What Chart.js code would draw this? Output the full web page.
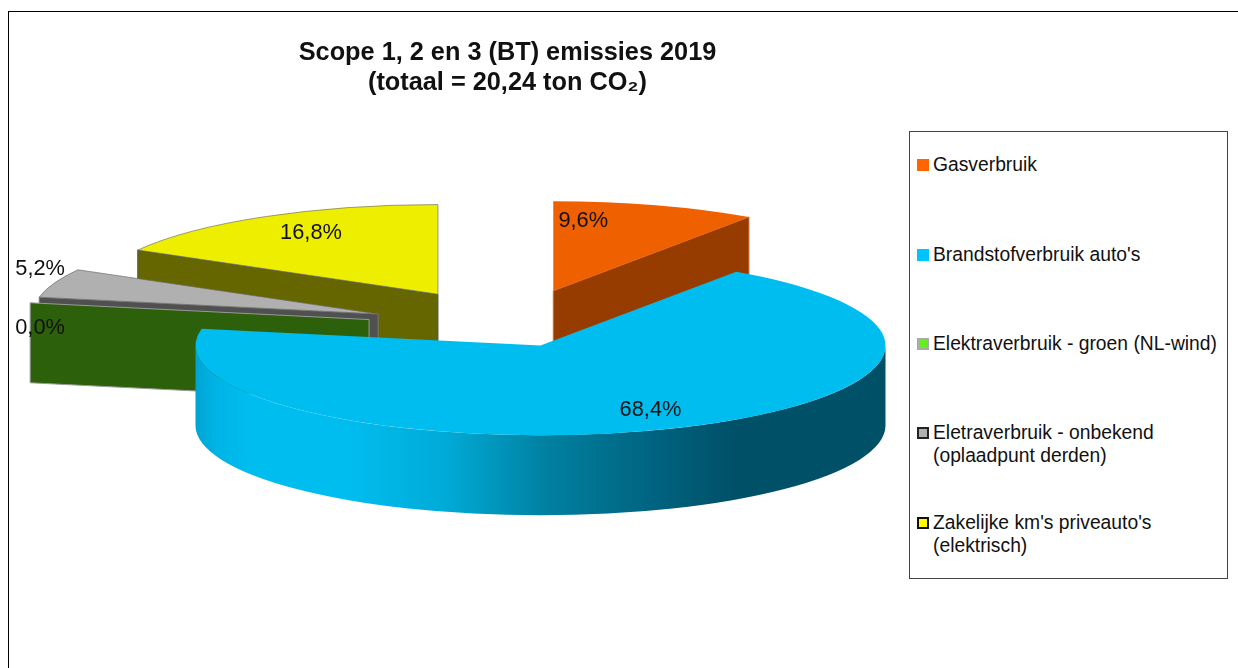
<!DOCTYPE html>
<html>
<head>
<meta charset="utf-8">
<title>Scope 1, 2 en 3 emissies 2019</title>
<script src="https://cdn.jsdelivr.net/npm/chart.js@4"></script>
<style>
    body { margin: 0; background: #fff; font-family: "Liberation Sans", Arial, sans-serif; }
    #frame { position: absolute; left: 8px; top: 11px; width: 1240px; height: 670px; border: 1px solid #000; }
    #pieChart { position: absolute; left: 0; top: 0; }
    #legendBox { position: absolute; left: 909px; top: 131px; width: 317px; height: 446px; border: 1px solid #444; background: #fff; }
    .legend-item { position: absolute; left: 7px; font-size: 19.3px; line-height: 23px; color: #111; white-space: nowrap; }
    .legend-item i { position: absolute; left: 0; top: 6px; width: 12px; height: 12px; box-sizing: border-box; }
    .legend-item span { display: block; margin-left: 16px; }
</style>
</head>
<body>
<div id="frame"></div>
<canvas id="pieChart" width="1238" height="668"></canvas>
<div id="legendBox"></div>

<script>
const titleLines = ["Scope 1, 2 en 3 (BT) emissies 2019", "(totaal = 20,24 ton CO₂)"];
const categories = ["Gasverbruik", "Brandstofverbruik auto's", "Elektraverbruik - groen (NL-wind)", "Eletraverbruik - onbekend (oplaadpunt derden)", "Zakelijke km's priveauto's (elektrisch)"];
const legendLines = [["Gasverbruik"], ["Brandstofverbruik auto's"], ["Elektraverbruik - groen (NL-wind)"], ["Eletraverbruik - onbekend", "(oplaadpunt derden)"], ["Zakelijke km's priveauto's", "(elektrisch)"]];
const shares = [9.6, 68.4, 0, 5.2, 16.8];

const topColors = ["#ef6000", "#00bdf0", "#66ee22", "#b0b0b0", "#eeee00"];
const wallColors = ["#963c00", "#00bdf0", "#2d600a", "#505050", "#666600"];
const swatchColors = ["#ff6600", "#00c4ff", "#66ee22", "#b0b0b0", "#ffff00"];
const swatchBorders = ["#ff6600", "#00c4ff", "#aaaaaa", "#222222", "#111111"];
const edgeColors = ["#d87030", "#00bdf0", "#999999", "#777777", "#555555"];

// how far each slice is pulled out of the pie, in px
const explode = [144, 79, 144, 141, 144];
// label position relative to the slice tip
const labelShift = [[30, -70], [110, 64], [-329, 8], [-338, -45], [-127, -61]];
const wallOrder = [4, 3, 2, 0, 1];

const squash = 0.26;
const depth = 80;
const pieRadius = 345;
const titleShift = 3;

function tipOf(arc, cy) {
    return { x: arc.x, y: cy + (arc.y - cy) * squash };
}

function drawCutFace(ctx, tip, angle, color, edge) {
    const ex = tip.x + Math.cos(angle) * pieRadius;
    const ey = tip.y + Math.sin(angle) * pieRadius * squash;
    ctx.beginPath();
    ctx.moveTo(tip.x, tip.y);
    ctx.lineTo(ex, ey);
    ctx.lineTo(ex, ey + depth);
    ctx.lineTo(tip.x, tip.y + depth);
    ctx.closePath();
    ctx.fillStyle = color;
    ctx.fill();
    ctx.strokeStyle = edge;
    ctx.lineWidth = 1;
    ctx.stroke();
}

function blueGradient(ctx, tip) {
    const left = tip.x - pieRadius;
    const g = ctx.createLinearGradient(left, 0, left + pieRadius * 2, 0);
    g.addColorStop(0, "#00a4d4");
    g.addColorStop(0.03, "#00b4e6");
    g.addColorStop(0.08, "#00bdf0");
    g.addColorStop(0.22, "#00bdf0");
    g.addColorStop(0.365, "#00aad6");
    g.addColorStop(0.51, "#0080a0");
    g.addColorStop(0.615, "#006c8a");
    g.addColorStop(0.78, "#005068");
    g.addColorStop(1, "#005068");
    return g;
}

function drawRim(ctx, tip, a0, a1, fill) {
    const ry = pieRadius * squash;
    ctx.beginPath();
    ctx.ellipse(tip.x, tip.y, pieRadius, ry, 0, a0, a1);
    ctx.ellipse(tip.x, tip.y + depth, pieRadius, ry, 0, a1, a0, true);
    ctx.closePath();
    ctx.fillStyle = fill;
    ctx.fill();
}

const pie3d = {
    id: "pie3d",
    afterDatasetUpdate(chart) {
        // pull the slices out by hand, the offset option also resizes them
        chart.getDatasetMeta(0).data.forEach((arc, i) => {
            const mid = (arc.startAngle + arc.endAngle) / 2;
            arc.x += Math.cos(mid) * explode[i] + titleShift;
            arc.y += Math.sin(mid) * explode[i];
        });
    },
    beforeDatasetDraw(chart) {
        const ctx = chart.ctx;
        const area = chart.chartArea;
        const cy = (area.top + area.bottom) / 2;
        const arcs = chart.getDatasetMeta(0).data;

        wallOrder.forEach(i => {
            const arc = arcs[i];
            const tip = tipOf(arc, cy);
            if (-Math.cos(arc.startAngle) > 0.001) {
                drawCutFace(ctx, tip, arc.startAngle, wallColors[i], edgeColors[i]);
            }
            if (Math.cos(arc.endAngle) > 0.001) {
                drawCutFace(ctx, tip, arc.endAngle, wallColors[i], edgeColors[i]);
            }
            const a0 = Math.max(arc.startAngle, 0);
            const a1 = Math.min(arc.endAngle, Math.PI);
            if (a0 < a1) {
                drawRim(ctx, tip, a0, a1, blueGradient(ctx, tip));
            }
        });

        ctx.save();
        ctx.translate(0, cy * (1 - squash));
        ctx.scale(1, squash);
    },
    afterDatasetDraw(chart) {
        chart.ctx.restore();
    },
    afterDatasetsDraw(chart) {
        const ctx = chart.ctx;
        const area = chart.chartArea;
        const cy = (area.top + area.bottom) / 2;
        ctx.save();
        ctx.font = '21.8px "Liberation Sans"';
        ctx.fillStyle = "#111";
        ctx.textAlign = "center";
        ctx.textBaseline = "middle";
        chart.getDatasetMeta(0).data.forEach((arc, i) => {
            const tip = tipOf(arc, cy);
            const text = shares[i].toFixed(1).replace(".", ",") + "%";
            ctx.fillText(text, tip.x + labelShift[i][0], tip.y + labelShift[i][1]);
        });
        ctx.restore();
    }
};

new Chart(document.getElementById("pieChart"), {
    type: "pie",
    data: {
        labels: categories,
        datasets: [{
            data: shares,
            backgroundColor: topColors,
            borderColor: ["#ef6000", "#00bdf0", "#999999", "#666666", "#666666"],
            borderWidth: [0, 0, 0, 1, 1],
            clip: false
        }]
    },
    options: {
        responsive: false,
        animation: false,
        radius: pieRadius,
        layout: {
            padding: { top: 37.5, right: 223, bottom: 112.5, left: 0 }
        },
        plugins: {
            legend: { display: false },
            tooltip: { enabled: false },
            title: {
                display: true,
                text: titleLines,
                color: "#111",
                padding: 0,
                font: { family: '"Liberation Sans"', size: 25.3, weight: "bold", lineHeight: 1.19 }
            }
        }
    },
    plugins: [pie3d]
});

const legendBox = document.getElementById("legendBox");
const legendTops = [21, 111, 200, 289, 379];
legendLines.forEach((lines, i) => {
    const item = document.createElement("div");
    item.className = "legend-item";
    item.style.top = legendTops[i] + "px";
    item.innerHTML = `<i style="background:${swatchColors[i]};border:${i > 1 ? 2 : 0}px solid ${swatchBorders[i]}"></i>` +
        lines.map(line => `<span>${line}</span>`).join("");
    legendBox.appendChild(item);
});
</script>
</body>
</html>
